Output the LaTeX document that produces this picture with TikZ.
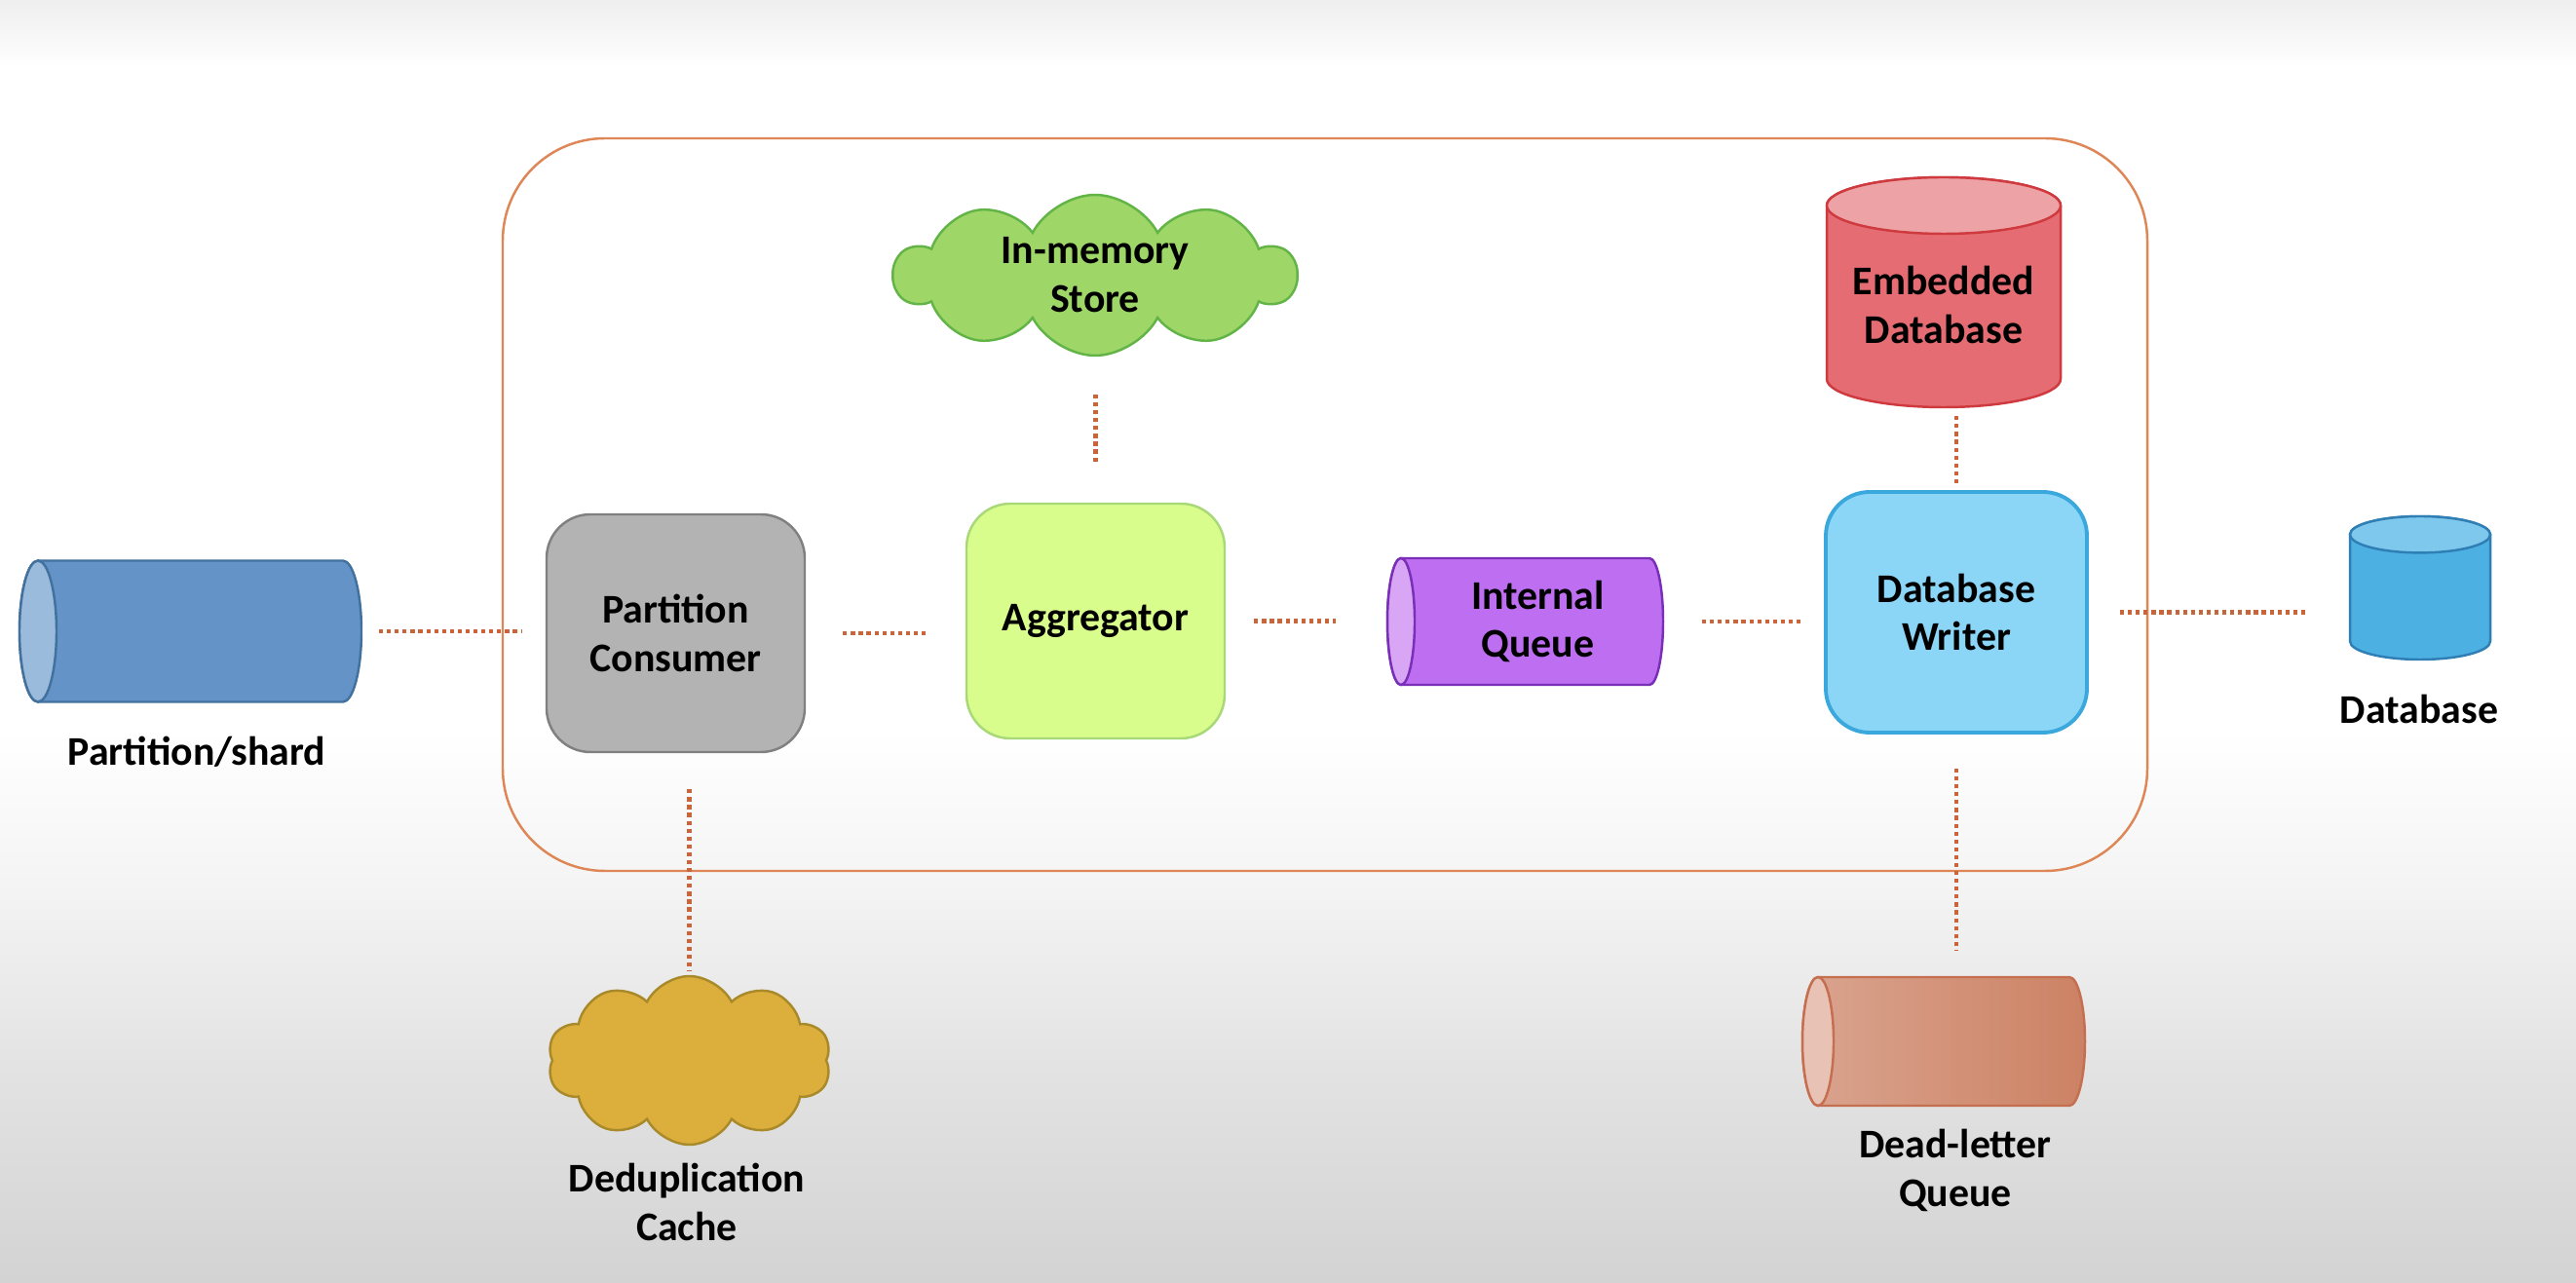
\documentclass[tikz,border=0pt]{standalone}
\usepackage{fontspec}
\setmainfont{Carlito}
\usepackage{xcolor}
\usepackage{tikz}
\usetikzlibrary{shapes.symbols}

\definecolor{bgbot}{HTML}{D3D3D3}
\definecolor{bgmid}{HTML}{E2E2E2}
\definecolor{bglight}{HTML}{F5F5F5}
\definecolor{bgtop}{HTML}{EEEEEE}
\definecolor{framec}{HTML}{DE8656}
\definecolor{linkc}{HTML}{C8653A}
\definecolor{sharddraw}{HTML}{41719C}
\definecolor{shardbody}{HTML}{6393C7}
\definecolor{shardend}{HTML}{9BBBDD}
\definecolor{dbdraw}{HTML}{2F7FB5}
\definecolor{dbbody}{HTML}{4CB0E3}
\definecolor{dbend}{HTML}{7DC8EC}
\definecolor{dedupdraw}{HTML}{A98A2A}
\definecolor{dedupfill}{HTML}{DCAE3B}
\definecolor{dlqdraw}{HTML}{C56E50}
\definecolor{dlqleft}{HTML}{DAA48F}
\definecolor{dlqright}{HTML}{CC8264}
\definecolor{dlqend}{HTML}{E8C3B5}
\definecolor{pcdraw}{HTML}{808080}
\definecolor{pcfill}{HTML}{B3B3B3}
\definecolor{aggdraw}{HTML}{A8D878}
\definecolor{aggfill}{HTML}{D9FD8C}
\definecolor{iqdraw}{HTML}{7A2FB8}
\definecolor{iqbody}{HTML}{BE6EF0}
\definecolor{iqend}{HTML}{D8A6F4}
\definecolor{dbwdraw}{HTML}{3AA8DC}
\definecolor{dbwfill}{HTML}{8BD5F6}
\definecolor{embdraw}{HTML}{CF3A3F}
\definecolor{embbody}{HTML}{E46C72}
\definecolor{embend}{HTML}{EDA2A6}
\definecolor{memdraw}{HTML}{62B447}
\definecolor{memfill}{HTML}{9FD668}
\pgfdeclareverticalshading{bgshade}{100bp}{color(0bp)=(bgbot); color(25bp)=(bgbot); color(33bp)=(bgmid); color(41bp)=(bglight); color(46.5bp)=(white); color(72.4bp)=(white); color(75bp)=(bgtop); color(100bp)=(bgtop)}

\pgfdeclarelayer{backdrop}
\pgfdeclarelayer{solids}
\pgfsetlayers{backdrop,solids,main}

% horizontal cylinder, face on the left: node, x radius, y radius, line colour, body style, face colour
\newcommand{\hcyl}[6]{%
  \begin{pgfonlayer}{solids}
    \draw[draw=#4, #5, line width=0.7pt] ([xshift=#2]#1.north west) -- ([xshift=-#2]#1.north east)
      arc[start angle=90, end angle=-90, x radius=#2, y radius=#3] -- ([xshift=#2]#1.south west)
      arc[start angle=270, end angle=90, x radius=#2, y radius=#3] -- cycle;
    \draw[draw=#4, fill=#6, line width=0.7pt] ([xshift=#2]#1.west) ellipse[x radius=#2, y radius=#3];
  \end{pgfonlayer}}
% vertical cylinder, face on top
\newcommand{\vcyl}[6]{%
  \begin{pgfonlayer}{solids}
    \draw[draw=#4, #5, line width=0.7pt] ([yshift=-#3]#1.north west) -- ([yshift=#3]#1.south west)
      arc[start angle=180, end angle=360, x radius=#2, y radius=#3] -- ([yshift=-#3]#1.north east)
      arc[start angle=0, end angle=180, x radius=#2, y radius=#3] -- cycle;
    \draw[draw=#4, fill=#6, line width=0.7pt] ([yshift=-#3]#1.north) ellipse[x radius=#2, y radius=#3];
  \end{pgfonlayer}}

\tikzset{
  lbl/.style={font=\fontsize{11.9}{14.2}\selectfont\bfseries, align=center, inner sep=0pt},
  proc/.style={lbl, draw, line width=0.7pt, rounded corners=0.45cm},
  cylbox/.style={lbl, rectangle, outer sep=0pt},
  cloudy/.style={lbl, cloud, cloud ignores aspect, draw, line width=0.7pt, cloud puffs=10, cloud puff arc=125},
  link/.style={draw=linkc, line width=1.2pt, dash pattern=on 1.2pt off 1.1pt},
}

\begin{document}
\begin{tikzpicture}
    \useasboundingbox (0,0) rectangle (26.44,13.16);
    \begin{pgfonlayer}{backdrop}
      \shade[shading=bgshade] (0,0) rectangle (26.44,13.16);
    \end{pgfonlayer}
    % service boundary
    \node[draw=framec, line width=0.7pt, rounded corners=1.05cm, minimum width=16.88cm, minimum height=7.52cm] (svc) at (13.60,7.98) {};

    % outside the service
    \node[cylbox, minimum width=3.51cm, minimum height=1.45cm] (shard) at (1.955,6.68) {};
    \hcyl{shard}{0.19cm}{0.725cm}{sharddraw}{fill=shardbody}{shardend}
    \node[lbl] (shardlbl) at (2.02,5.44) {Partition/shard};
    \node[cylbox, minimum width=1.44cm, minimum height=1.47cm] (db) at (24.84,7.125) {};
    \vcyl{db}{0.72cm}{0.187cm}{dbdraw}{fill=dbbody}{dbend}
    \node[lbl] (dblbl) at (24.83,5.88) {Database};
    \node[cloudy, minimum width=2.91cm, minimum height=1.73cm, draw=dedupdraw, fill=dedupfill] (dedup) at (7.075,2.275) {};
    \node[lbl] (deduplbl) at (7.05,0.82) {Deduplication\\Cache};
    \node[cylbox, minimum width=2.90cm, minimum height=1.32cm] (dlq) at (19.95,2.47) {};
    \hcyl{dlq}{0.16cm}{0.66cm}{dlqdraw}{left color=dlqleft, right color=dlqright}{dlqend}
    \node[lbl] (dlqlbl) at (20.07,1.15) {Dead-letter\\Queue};

    % inside the service
    \node[proc, minimum width=2.65cm, minimum height=2.44cm, draw=pcdraw, fill=pcfill] (pc) at (6.935,6.66) {Partition\\Consumer};
    \node[proc, minimum width=2.65cm, minimum height=2.41cm, draw=aggdraw, fill=aggfill] (agg) at (11.245,6.785) {Aggregator};
    \node[cylbox, minimum width=2.83cm, minimum height=1.30cm] (iq) at (15.655,6.78) {\hspace{0.26cm}Internal\\\hspace{0.26cm}Queue};
    \hcyl{iq}{0.14cm}{0.65cm}{iqdraw}{fill=iqbody}{iqend}
    \node[proc, minimum width=2.68cm, minimum height=2.47cm, line width=1.1pt, draw=dbwdraw, fill=dbwfill] (dbw) at (20.08,6.875) {Database\\Writer};
    \node[cylbox, minimum width=2.40cm, minimum height=2.36cm, label={[lbl, yshift=-0.13cm]center:{Embedded\\Database}}] (emb) at (19.95,10.16) {};
    \vcyl{emb}{1.20cm}{0.29cm}{embdraw}{fill=embbody}{embend}
    \node[cloudy, minimum width=4.12cm, minimum height=1.65cm, draw=memdraw, fill=memfill] (mem) at (11.24,10.335) {In-memory\\Store};

    % links
    \draw[link, shorten <=0.18cm, shorten >=0.25cm] (shard.east) -- (shard.east -| pc.west);
    \draw[link, shorten <=0.38cm, shorten >=0.41cm] (pc.east) -- (pc.east -| agg.west);
    \draw[link, shorten <=0.29cm, shorten >=0.53cm] (agg.east) -- (agg.east -| iq.west);
    \draw[link, shorten <=0.40cm, shorten >=0.22cm] (iq.east) -- (iq.east -| dbw.west);
    \draw[link, shorten <=0.32cm, shorten >=0.44cm] (dbw.east) -- (dbw.east -| db.west);
    \draw[link, shorten <=0.42cm, shorten >=0.37cm] (agg.north) -- (agg.north |- mem.south);
    \draw[link, shorten <=0.07cm, shorten >=0.07cm] (dbw.north) -- (dbw.north |- emb.south);
    \draw[link, shorten <=0.37cm, shorten >=0.04cm] (dedup.north |- pc.south) -- (dedup.north);
    \draw[link, shorten <=0.35cm, shorten >=0.28cm] (dbw.south) -- (dbw.south |- dlq.north);
\end{tikzpicture}
\end{document}
